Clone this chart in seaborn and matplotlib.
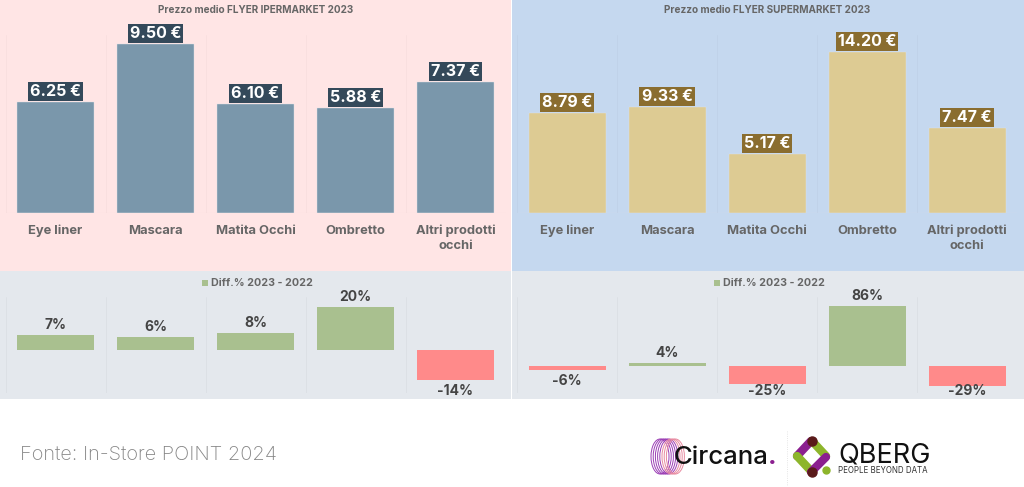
import pandas as pd
import seaborn as sns
import matplotlib.pyplot as plt
from matplotlib.patches import Rectangle, Ellipse
from matplotlib.lines import Line2D

sns.set_theme(style="white")
plt.rcParams['font.family'] = ['Inter', 'DejaVu Sans']

W, H = 1024, 487

categories = ['Eye liner', 'Mascara', 'Matita Occhi', 'Ombretto', 'Altri prodotti\nocchi']
iper_prices = [6.25, 9.50, 6.10, 5.88, 7.37]
super_prices = [8.79, 9.33, 5.17, 14.20, 7.47]
iper_diff = [7, 6, 8, 20, -14]
super_diff = [-6, 4, -25, 86, -29]

title_iper = 'Prezzo medio FLYER IPERMARKET 2023'
title_super = 'Prezzo medio FLYER SUPERMARKET 2023'
legend_label = 'Diff.% 2023 - 2022'
source = 'Fonte: In-Store POINT 2024'

GREEN = '#A9C08F'
RED = '#FF8A8A'
TEXT = '#666666'
DARK = '#444444'


def px_axes(x0, y0, x1, y1):
    # pixel box (y from the top) to a figure axes
    ax = fig.add_axes([x0 / W, 1 - y1 / H, (x1 - x0) / W, (y1 - y0) / H])
    ax.patch.set_alpha(0)
    sns.despine(ax=ax, left=True, bottom=True, top=True, right=True)
    return ax


def panel(x0, y0, x1, y1, color):
    fig.add_artist(Rectangle((x0 / W, 1 - y1 / H), (x1 - x0) / W, (y1 - y0) / H,
                             transform=fig.transFigure, color=color, lw=0, zorder=-5))


def separators(ax, color):
    for i in range(6):
        ax.axvline(i - 0.5, color=color, lw=0.5, zorder=0)


def price_chart(box, values, bar_color, label_color, ymax):
    ax = px_axes(*box)
    df = pd.DataFrame({'cat': categories, 'val': values})
    sns.barplot(data=df, x='cat', y='val', color=bar_color, saturation=1, width=0.77,
                ax=ax, edgecolor='#dfe3e6', linewidth=0.3)
    ax.set_ylim(0, ymax)
    ax.set_xlim(-0.5, 4.5)
    ax.set_xlabel('')
    ax.set_ylabel('')
    ax.set_yticks([])
    ax.tick_params(axis='x', length=0, pad=8.5)
    ax.set_xticks(range(5))
    ax.set_xticklabels(categories, fontsize=9.3, fontweight='bold', color=TEXT, linespacing=1.3)
    ax.axhline(0, color='#eedede', lw=0.8)
    separators(ax, '#00000009')
    for i, v in enumerate(values):
        ax.annotate(f'{v:.2f} €', (i, v), xytext=(0, 3), textcoords='offset pixels',
                    ha='center', va='bottom', fontsize=11.5, fontweight='bold', color='white',
                    bbox=dict(boxstyle='square,pad=0.13', fc=label_color, ec='none'))
    return ax


def diff_chart(box, values, ymin, ymax):
    ax = px_axes(*box)
    df = pd.DataFrame({'cat': categories, 'val': values,
                       'sign': ['up' if v >= 0 else 'down' for v in values]})
    sns.barplot(data=df, x='cat', y='val', hue='sign', palette={'up': GREEN, 'down': RED},
                saturation=1, width=0.77, dodge=False, legend=False, ax=ax, linewidth=0)
    ax.set_ylim(ymin, ymax)
    ax.set_xlim(-0.5, 4.5)
    ax.set_xlabel('')
    ax.set_ylabel('')
    ax.set_xticks([])
    ax.set_yticks([])
    separators(ax, '#0000000c')
    # labels under long negative bars stay inside the panel
    px = (ymax - ymin) / (box[3] - box[1])
    floor = ymin + 9 * px
    for i, v in enumerate(values):
        if v >= 0:
            ax.annotate(f'{v}%', (i, v), xytext=(0, 3), textcoords='offset pixels', ha='center',
                        va='bottom', fontsize=10, fontweight='bold', color=DARK)
        else:
            ax.text(i, max(v - 4 * px, floor), f'{v}%', ha='center', va='top', fontsize=10,
                    fontweight='bold', color=DARK)
    return ax


def fig_text(x, y, s, **kw):
    fig.text(x / W, 1 - y / H, s, **kw)


def legend_key(x, y):
    fig.add_artist(Rectangle((x / W, 1 - (y + 3) / H), 6 / W, 6 / H,
                             transform=fig.transFigure, color=GREEN, lw=0))


fig = plt.figure(figsize=(W / 100, H / 100), dpi=100, facecolor='white')

panel(0, 0, 511, 271, '#FFE5E5')
panel(512, 0, 1024, 271, '#C5D8EF')
panel(0, 271, 511, 399, '#E4E8ED')
panel(512, 271, 1024, 399, '#E4E8ED')

price_chart((5.5, 35, 505.5, 213), iper_prices, '#7A97AB', '#34495A', 178 / 17.8)
price_chart((517, 35, 1017, 213), super_prices, '#DDCB93', '#8A6D2F', 178 / 11.34)

diff_chart((5.5, 297, 505.5, 393), iper_diff, -43 / 2.17, 53 / 2.17)
diff_chart((517, 297, 1017, 393), super_diff, -27 / 0.7, 69 / 0.7)

fig_text(256, 10, title_iper, ha='center', va='center', fontsize=7.2, fontweight='bold', color=TEXT)
fig_text(767, 10, title_super, ha='center', va='center', fontsize=7.2, fontweight='bold', color=TEXT)

for key_x, text_x in [(202, 211), (714, 723)]:
    legend_key(key_x, 283)
    fig_text(text_x, 283, legend_label, ha='left', va='center', fontsize=7.7, fontweight='bold', color=TEXT)

fig_text(20, 455, source, ha='left', va='center', fontsize=14.4, fontweight='light', color='#858585')

# Circana logo
logo = px_axes(640, 425, 1024, 487)
logo.set_xlim(640, 1024)
logo.set_ylim(487, 425)
logo.set_xticks([])
logo.set_yticks([])
for i in range(8):
    logo.add_patch(Ellipse((660 + i * 2.2, 456.5), 18, 35, fill=False, lw=0.7,
                           ec='#9B3FB5' if i < 5 else '#E88AA0'))
logo.text(674, 458, 'Circana', ha='left', va='center', fontsize=18.5, fontweight='medium', color='#111111')
logo.text(768, 458, '.', ha='left', va='center', fontsize=18.5, fontweight='bold', color='#8B1F8F')
logo.add_line(Line2D([786.5, 786.5], [431, 486], color='#dddddd', lw=0.6, ls=':'))

# QBERG logo
for xs, ys, c in [([797, 811], ([456, 441]), '#8B1F8F'),
                  ([812, 826], ([441, 456]), '#8DB52B'),
                  ([797, 811], ([456, 471]), '#8DB52B'),
                  ([811, 826], ([472, 457]), '#8B1F8F')]:
    logo.plot(xs, ys, color=c, lw=6, solid_capstyle='round')
logo.plot([812, 812], [441, 472], ls='none', marker='o', ms=6.5, color='#5A1A1A')
logo.plot([826], [470], marker='o', ms=5, color='#8DB52B')
logo.text(838, 455, 'QBERG', ha='left', va='center', fontsize=19.5, fontweight='normal', color='#111111')
logo.text(838, 470.5, 'PEOPLE BEYOND DATA', ha='left', va='center', fontsize=5.7, color='#333333')

fig.savefig('out.png', dpi=100)
plt.close()
